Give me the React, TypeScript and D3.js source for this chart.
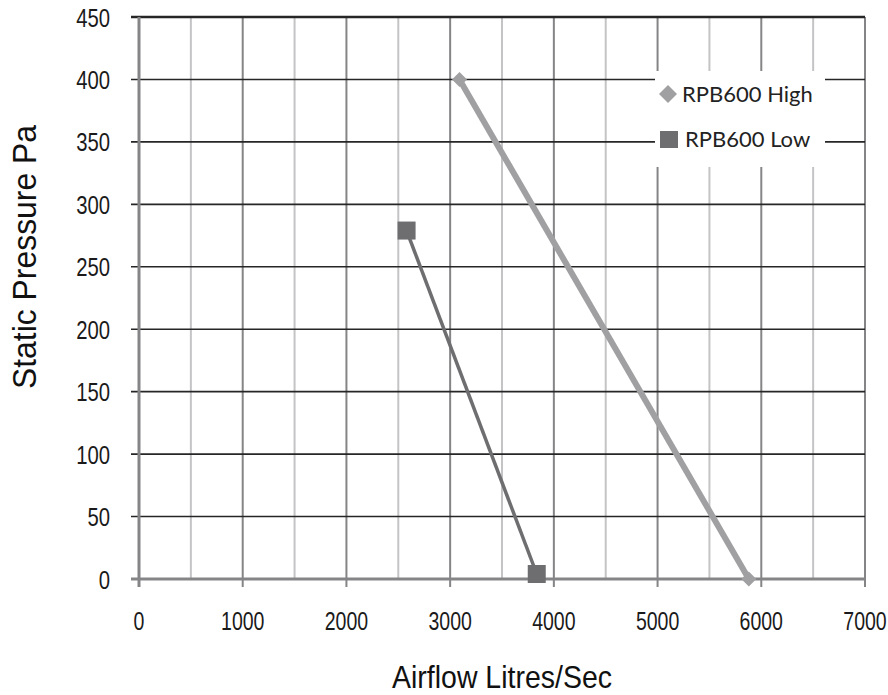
import React from "react";
import * as d3 from "d3";

const xTicks = [0, 1000, 2000, 3000, 4000, 5000, 6000, 7000];
const xMinor = [500, 1500, 2500, 3500, 4500, 5500, 6500];
const yTicks = [0, 50, 100, 150, 200, 250, 300, 350, 400, 450];
const highX = [3090, 5880];
const highY = [400, 0];
const lowX = [2580, 3835];
const lowY = [279, 4];
const seriesNames = ["RPB600 High", "RPB600 Low"];

const W = 888, H = 695;
const L = 139, R = 865, T = 17, B = 579;

const diamond = (r: number) => `M0,${-r}L${r},0L0,${r}L${-r},0Z`;

export default function App() {
  const x = d3.scaleLinear().domain([0, 7000]).range([L, R]);
  const y = d3.scaleLinear().domain([0, 450]).range([B, T]);
  const line = d3.line<[number, number]>().x(d => x(d[0])).y(d => y(d[1]));
  const high: [number, number][] = highX.map((v, i) => [v, highY[i]]);
  const low: [number, number][] = lowX.map((v, i) => [v, lowY[i]]);
  const tickFont = "'Liberation Sans', Arial, sans-serif";
  const legendFont = "Lato, 'Open Sans', sans-serif";
  return (
    <svg width={W} height={H} style={{ position: "absolute", left: 0, top: 0, background: "#fff" }}>
      {xMinor.map(v => (
        <line key={"m" + v} x1={x(v)} x2={x(v)} y1={T} y2={B} stroke="#c4c4c6" strokeWidth={2} />
      ))}
      {xTicks.slice(1).map(v => (
        <line key={"g" + v} x1={x(v)} x2={x(v)} y1={T} y2={B + 8} stroke="#858587" strokeWidth={2} />
      ))}
      {yTicks.slice(1).map(v => (
        <line key={"h" + v} x1={L - 8} x2={R} y1={y(v)} y2={y(v)} stroke="#262626" strokeWidth={v === 450 ? 2.5 : 1.6} />
      ))}
      <line x1={L} x2={L} y1={T} y2={B + 8} stroke="#858587" strokeWidth={3} />
      <line x1={L - 8} x2={R + 1} y1={B} y2={B} stroke="#858587" strokeWidth={3} />
      {/* legend */}
      <rect x={655} y={71} width={170} height={96} fill="#fff" />
      <path d={diamond(9)} transform="translate(668,94)" fill="#a0a0a2" />
      <text x={682} y={102} fontFamily={legendFont} fontSize={22} fill="#222">{seriesNames[0]}</text>
      <rect x={660} y={131} width={18} height={17} fill="#6e6e71" />
      <text x={685} y={147} fontFamily={legendFont} fontSize={22} fill="#222">{seriesNames[1]}</text>
      {/* series */}
      <path d={line(high) as string} stroke="#a0a0a2" strokeWidth={6} fill="none" />
      {high.map((d, i) => (
        <path key={"hd" + i} d={diamond(7.5)}
          transform={`translate(${x(d[0])},${y(d[1])})`} fill="#a0a0a2" />
      ))}
      <path d={line(low) as string} stroke="#6e6e71" strokeWidth={3.5} fill="none" />
      {low.map((d, i) => (
        <rect key={"ls" + i} x={x(d[0]) - 9} y={y(d[1]) - 9} width={18} height={18} fill="#6e6e71" />
      ))}
      {yTicks.map(v => (
        <text key={"yl" + v} transform={`translate(110,${y(v) + 9.5}) scale(0.78,1)`} textAnchor="end"
          fontFamily={tickFont} fontSize={26} fill="#1a1a1a">{v}</text>
      ))}
      {xTicks.map(v => (
        <text key={"xl" + v} transform={`translate(${x(v)},630) scale(0.78,1)`} textAnchor="middle"
          fontFamily={tickFont} fontSize={25} fill="#1a1a1a">{v}</text>
      ))}
      <text transform="translate(36,257) rotate(-90)" textAnchor="middle" fontFamily={tickFont}
        fontSize={33} textLength={264} lengthAdjust="spacingAndGlyphs" fill="#111">Static Pressure Pa</text>
      <text x={502} y={688} textAnchor="middle" fontFamily={tickFont} fontSize={32}
        textLength={220} lengthAdjust="spacingAndGlyphs" fill="#111">Airflow Litres/Sec</text>
    </svg>
  );
}
